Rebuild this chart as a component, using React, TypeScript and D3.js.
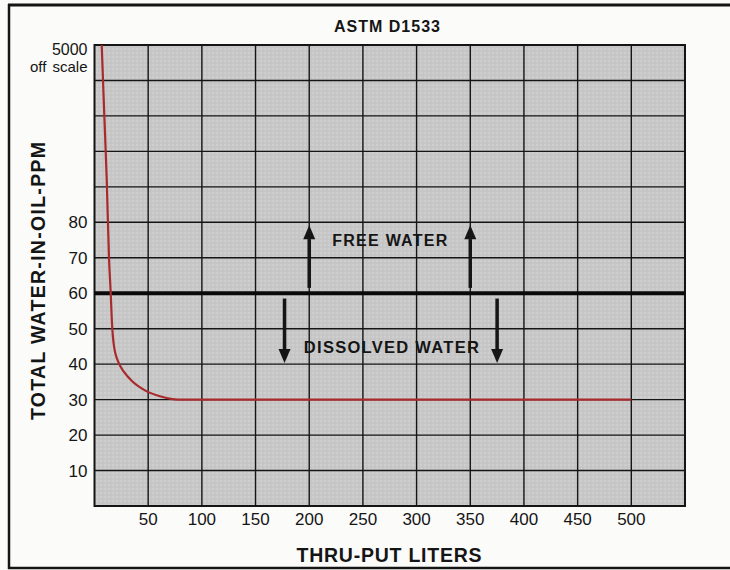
import React from "react";
import * as d3 from "d3";

// values
const title = "ASTM D1533";
const xTitle = "THRU-PUT LITERS";
const yTitle = "TOTAL WATER-IN-OIL-PPM";
const xTicks = [50, 100, 150, 200, 250, 300, 350, 400, 450, 500];
const yTicks = [10, 20, 30, 40, 50, 60, 70, 80];
const yGrid = [10, 20, 30, 40, 50, 60, 70, 80, 90, 100, 110, 120];
const offScaleTop = 130; // "5000 off scale" sits at the top of the grid
const limitPPM = 60;

// thru-put (liters) vs water-in-oil (ppm, plotted position)
const curveX = [6.7, 9.1, 11.4, 13.5, 15.1, 16.2, 18.2, 22.8, 27.5, 34.6, 47, 62.6, 77.8, 150, 300, 500];
const curveY = [130, 110.5, 92, 70, 60, 52, 45, 40.2, 37.8, 35.3, 32.6, 30.8, 30, 30, 30, 30];

const upArrowX = [200, 350];
const upArrowFrom = 61.5;
const upArrowTo = 79.2;
const downArrowX = [177, 375];
const downArrowFrom = 58.5;
const downArrowTo = 40.3;

const W = 730;
const H = 570;
const plot = { left: 94.5, right: 685, top: 45, bottom: 506 };

export default function App() {
  const x = d3.scaleLinear().domain([0, 550]).range([plot.left, plot.right]);
  const y = d3.scaleLinear().domain([0, 130]).range([plot.bottom, plot.top]);

  const pts = curveX.map((v, i) => [v, curveY[i]] as [number, number]);
  const line = d3
    .line<[number, number]>()
    .x((d) => x(d[0]))
    .y((d) => y(d[1]))
    .curve(d3.curveMonotoneX);

  const font = "'Liberation Sans', Arial, Helvetica, sans-serif";
  const ink = "#151515";

  const arrow = (xv: number, from: number, to: number, key: string) => {
    const ax = x(xv);
    const y0 = y(from);
    const y1 = y(to);
    const dir = y1 < y0 ? 1 : -1; // 1 = pointing up
    const headLen = 14;
    const headHalf = 6;
    const base = y1 + dir * headLen;
    return (
      <g key={key}>
        <line x1={ax} x2={ax} y1={y0} y2={base} stroke={ink} strokeWidth={3.5} />
        <path d={`M${ax},${y1} L${ax - headHalf},${base} L${ax + headHalf},${base} Z`} fill={ink} />
      </g>
    );
  };

  return (
    <svg
      width={W}
      height={H}
      style={{ position: "absolute", left: 0, top: 0, background: "#fbfbfa" }}
      fontFamily={font}
    >
      <defs>
        <pattern id="halftone" width="4" height="4" patternUnits="userSpaceOnUse">
          <rect width="4" height="4" fill="#c7c7c7" />
          <circle cx="1" cy="1" r="0.8" fill="#d8d8d8" />
          <circle cx="3" cy="3" r="0.6" fill="#bbbbbb" />
        </pattern>
      </defs>

      {/* outer frame: top, left, bottom */}
      <line x1={8} x2={W} y1={5} y2={5} stroke={ink} strokeWidth={3} />
      <line x1={9} x2={9} y1={4} y2={569} stroke={ink} strokeWidth={2.5} />
      <line x1={8} x2={W} y1={568} y2={568} stroke={ink} strokeWidth={2.5} />

      {/* plot background */}
      <rect
        x={plot.left}
        y={plot.top}
        width={plot.right - plot.left}
        height={plot.bottom - plot.top}
        fill="url(#halftone)"
      />

      {/* grid */}
      {xTicks.map((t) => (
        <line key={"gx" + t} x1={x(t)} x2={x(t)} y1={plot.top} y2={plot.bottom} stroke={ink} strokeWidth={1.4} />
      ))}
      {yGrid.map((t) => (
        <line key={"gy" + t} x1={plot.left} x2={plot.right} y1={y(t)} y2={y(t)} stroke={ink} strokeWidth={1.4} />
      ))}
      <rect
        x={plot.left}
        y={plot.top}
        width={plot.right - plot.left}
        height={plot.bottom - plot.top}
        fill="none"
        stroke={ink}
        strokeWidth={2}
      />

      {/* 60 ppm saturation line */}
      <line x1={x(0)} x2={plot.right} y1={y(limitPPM)} y2={y(limitPPM)} stroke="#0a0a0a" strokeWidth={4} />

      {/* arrows */}
      {upArrowX.map((v) => arrow(v, upArrowFrom, upArrowTo, "u" + v))}
      {downArrowX.map((v) => arrow(v, downArrowFrom, downArrowTo, "d" + v))}

      <text x={x(275)} y={y(73.3)} textAnchor="middle" fontSize={16} fontWeight="bold" fill={ink} textLength={115} lengthAdjust="spacing">
        FREE WATER
      </text>
      <text x={x(276.5)} y={y(43.2)} textAnchor="middle" fontSize={16.5} fontWeight="bold" fill={ink} textLength={175} lengthAdjust="spacing">
        DISSOLVED WATER
      </text>

      {/* curve */}
      <path d={line(pts) ?? ""} fill="none" stroke="#a82a2c" strokeWidth={2.2} />

      {/* tick labels */}
      {xTicks.map((t) => (
        <text key={"tx" + t} x={x(t)} y={525} textAnchor="middle" fontSize={17} fill={ink}>
          {t}
        </text>
      ))}
      {yTicks.map((t) => (
        <text key={"ty" + t} x={87.5} y={y(t)} dy="0.36em" textAnchor="end" fontSize={17} fill={ink}>
          {t}
        </text>
      ))}
      <text x={87.5} y={y(offScaleTop) + 9.5} textAnchor="end" fontSize={16} fill={ink}>
        5000
      </text>
      <text x={87.5} y={y(offScaleTop) + 27} textAnchor="end" fontSize={15} fill={ink} wordSpacing={2}>
        off scale
      </text>

      {/* titles */}
      <text x={387} y={32} textAnchor="middle" fontSize={16} fontWeight="bold" fill={ink} textLength={106} lengthAdjust="spacing">
        {title}
      </text>
      <text x={389} y={562} textAnchor="middle" fontSize={19.5} fontWeight="bold" fill={ink} textLength={185} lengthAdjust="spacing">
        {xTitle}
      </text>
      <text
        transform={`translate(45,281) rotate(-90)`}
        textAnchor="middle"
        fontSize={19.5}
        fontWeight="bold"
        fill={ink}
        textLength={278}
        lengthAdjust="spacing"
      >
        {yTitle}
      </text>
    </svg>
  );
}
